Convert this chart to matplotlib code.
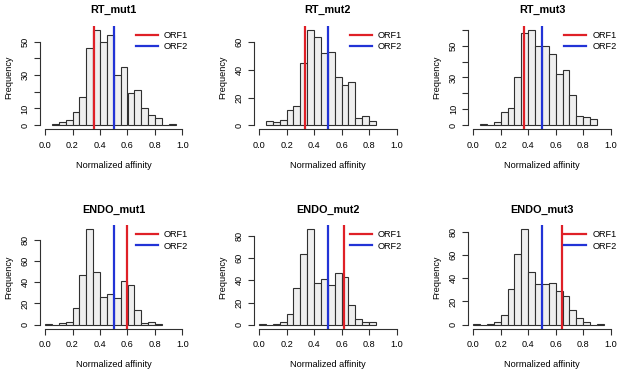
import matplotlib
matplotlib.use("Agg")
import matplotlib.pyplot as plt
import numpy as np

plt.rcParams['font.family'] = ['Liberation Sans', 'DejaVu Sans']

titles = ["RT_mut1", "RT_mut2", "RT_mut3", "ENDO_mut1", "ENDO_mut2", "ENDO_mut3"]
bin_width = 0.05
bin_starts = [0.05, 0.05, 0.05, 0.0, 0.0, 0.0]

rt_mut1 = [1, 2, 3, 8, 17, 46, 57, 50, 54, 30, 35, 19, 21, 10, 6, 4, 0, 1]
rt_mut2 = [3, 2, 4, 11, 14, 45, 69, 64, 52, 53, 35, 29, 31, 5, 7, 3]
rt_mut3 = [1, 0, 2, 8, 11, 30, 58, 60, 50, 50, 45, 32, 35, 19, 6, 5, 4]
endo_mut1 = [1, 0, 2, 3, 16, 47, 90, 50, 26, 29, 25, 41, 37, 14, 2, 3, 1]
endo_mut2 = [1, 0, 1, 2, 10, 33, 64, 86, 38, 41, 36, 47, 43, 18, 5, 2, 2]
endo_mut3 = [1, 0, 1, 2, 8, 31, 61, 82, 45, 35, 35, 36, 29, 25, 13, 6, 2, 0, 1]
counts = [rt_mut1, rt_mut2, rt_mut3, endo_mut1, endo_mut2, endo_mut3]

orf1 = [0.355, 0.335, 0.37, 0.60, 0.615, 0.645]
orf2 = [0.50, 0.50, 0.50, 0.50, 0.50, 0.50]

yticks = [[0, 10, 20, 30, 40, 50], [0, 20, 40, 60], [0, 10, 20, 30, 40, 50, 60],
          [0, 20, 40, 60, 80], [0, 20, 40, 60, 80], [0, 20, 40, 60, 80]]
yticklabels = [["0", "10", "", "30", "", "50"], ["0", "20", "40", "60"],
               ["0", "10", "", "30", "", "50", ""],
               ["0", "20", "40", "60", "80"], ["0", "20", "40", "60", "80"],
               ["0", "20", "40", "60", "80"]]
xticks = [0.0, 0.2, 0.4, 0.6, 0.8, 1.0]
xticklabels = ["0.0", "0.2", "0.4", "0.6", "0.8", "1.0"]

W, H = 617, 371
fig = plt.figure(figsize=(W / 100, H / 100), dpi=100)

lefts = [39.5, 253.6, 467.7]
tops = [26.0, 225.5]
aw, ah = 148.5, 103.0

red = "#df2027"
blue = "#2233d6"
fs = 6.6

for i in range(6):
    r, c = divmod(i, 3)
    x0 = lefts[c]
    y0 = tops[r]
    ax = fig.add_axes([x0 / W, 1 - (y0 + ah) / H, aw / W, ah / H])
    cnt = np.array(counts[i])
    edges = bin_starts[i] + bin_width * np.arange(len(cnt))
    ax.bar(edges, cnt, width=bin_width, align='edge', color="#efefef",
           edgecolor="#303030", linewidth=0.8)
    ymax = cnt.max()
    ax.set_xlim(-0.04, 1.04)
    ax.set_ylim(-0.04 * ymax, 1.04 * ymax)
    ax.axvline(orf1[i], color=red, lw=1.6, label="ORF1")
    ax.axvline(orf2[i], color=blue, lw=1.6, label="ORF2")
    for s in ["top", "right"]:
        ax.spines[s].set_visible(False)
    ax.spines["left"].set_bounds(0, yticks[i][-1])
    ax.spines["bottom"].set_bounds(0, 1)
    for s in ["left", "bottom"]:
        ax.spines[s].set_linewidth(0.8)
        ax.spines[s].set_color("#303030")
    ax.set_xticks(xticks)
    ax.set_xticklabels(xticklabels, fontsize=fs)
    ax.set_yticks(yticks[i])
    ax.set_yticklabels(yticklabels[i], fontsize=fs, rotation=90, va='center')
    ax.tick_params(axis='both', direction='out', length=4, width=0.8, color="#303030")
    ax.tick_params(axis='x', pad=4.5)
    ax.tick_params(axis='y', pad=3)
    ax.set_xlabel("Normalized affinity", fontsize=fs)
    ax.xaxis.set_label_coords(0.5, -36 / ah, transform=ax.transAxes)
    ax.xaxis.label.set_va('center')
    ax.set_ylabel("Frequency", fontsize=fs)
    ax.yaxis.set_label_coords(-31 / aw, 0.5, transform=ax.transAxes)
    ax.yaxis.label.set_va('center')
    ax.text(0.5, 1 + 16 / ah, titles[i], transform=ax.transAxes, ha='center',
            va='center', fontsize=7.8, fontweight='bold')
    ax.legend(loc='upper right', bbox_to_anchor=(1.02, 0.98), frameon=False,
              fontsize=fs, handlelength=2.4, handletextpad=0.7,
              labelspacing=0.25, borderaxespad=0, borderpad=0.3)

fig.savefig("out.png", dpi=100)
